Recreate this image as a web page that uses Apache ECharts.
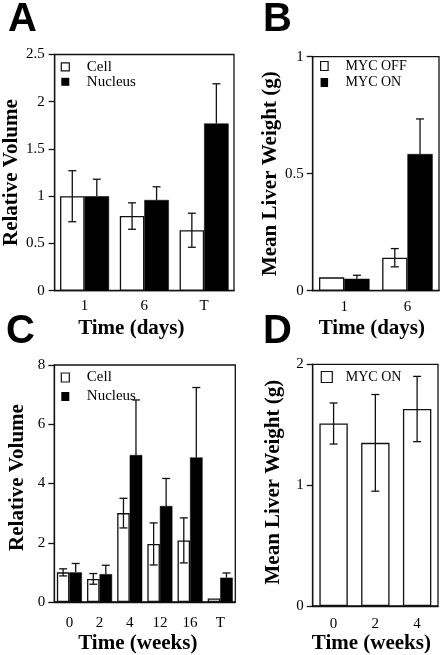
<!DOCTYPE html>
<html><head><meta charset="utf-8">
<script src="https://cdn.jsdelivr.net/npm/echarts@6/dist/echarts.min.js"></script>
<style>html,body{margin:0;padding:0;background:#fff}#c{width:442px;height:655px}</style>
</head><body><div id="c"></div>
<script>
// Panel A
const catsA = ['1', '6', 'T'];
const cellA = [1.0, 0.79, 0.64];
const cellErrA = [0.27, 0.14, 0.18];
const nucA = [1.0, 0.96, 1.77];
const nucErrA = [0.18, 0.14, 0.42];
// Panel B
const catsB = ['1', '6'];
const offB = [0.057, 0.141];
const offErrB = [0, 0.039];
const onB = [0.051, 0.584];
const onErrB = [0.015, 0.15];
// Panel C
const catsC = ['0', '2', '4', '12', '16', 'T'];
const cellC = [1.0, 0.78, 3.0, 1.96, 2.08, 0.12];
const cellErrC = [0.12, 0.18, 0.5, 0.71, 0.76, 0];
const nucC = [1.0, 0.94, 4.96, 3.24, 4.88, 0.82];
const nucErrC = [0.3, 0.3, 1.86, 0.93, 2.36, 0.16];
// Panel D
const catsD = ['0', '2', '4'];
const onD = [1.51, 1.35, 1.63];
const onErrD = [0.17, 0.40, 0.27];

const SERIF = 'Liberation Serif';
const INK = '#111';

function errSeries(ax, vals, errs, gap, n, pos, upOnly) {
  return {
    type: 'custom', xAxisIndex: ax, yAxisIndex: ax, z: 5, silent: true,
    encode: { x: 0, y: 1 },
    data: vals.map((v, i) => [i, v, errs[i]]),
    renderItem: function (params, api) {
      const idx = api.value(0), v = api.value(1), e = api.value(2);
      if (!e) return null;
      const band = api.size([1, 0])[0];
      const total = band * (1 - gap);
      const bw = total / n;
      const c = api.coord([idx, v]);
      const x = c[0] - total / 2 + bw * (pos + 0.5);
      const yt = api.coord([idx, v + e])[1];
      const yb = upOnly ? c[1] : api.coord([idx, Math.max(v - e, 0)])[1];
      const st = { stroke: INK, lineWidth: 1.3 };
      const ch = [
        { type: 'line', shape: { x1: x, y1: yt, x2: x, y2: yb }, style: st },
        { type: 'line', shape: { x1: x - 4, y1: yt, x2: x + 4, y2: yt }, style: st }
      ];
      if (!upOnly) ch.push({ type: 'line', shape: { x1: x - 4, y1: yb, x2: x + 4, y2: yb }, style: st });
      return { type: 'group', children: ch };
    }
  };
}

function barSeries(ax, name, vals, white, gap) {
  return {
    type: 'bar', name: name, xAxisIndex: ax, yAxisIndex: ax, data: vals,
    barGap: '0%', barCategoryGap: (gap * 100) + '%',
    itemStyle: white ? { color: '#fff', borderColor: INK, borderWidth: 1.3 } : { color: '#000', borderColor: '#000', borderWidth: 0.5 },
    emphasis: { disabled: true }, silent: true
  };
}

function xAx(gi, cats, margin, name, nameGap, shift) {
  return {
    type: 'category', gridIndex: gi, data: cats,
    axisLine: { lineStyle: { color: INK, width: 1.3 } },
    axisTick: { alignWithLabel: true, length: 5, lineStyle: { color: INK, width: 1.3 } },
    axisLabel: { margin: margin, color: '#000', fontFamily: SERIF, fontSize: 15 },
    name: name, nameLocation: 'middle', nameGap: nameGap,
    nameTextStyle: { color: '#000', fontFamily: SERIF, fontSize: 21, fontWeight: 'bold', padding: [0, shift, 0, 0] },
    splitLine: { show: false }
  };
}
function yAx(gi, max, interval, name, nameGap, margin, shift) {
  return {
    type: 'value', gridIndex: gi, min: 0, max: max, interval: interval,
    axisLine: { show: true, lineStyle: { color: INK, width: 1.3 } },
    axisTick: { show: true, length: 6, lineStyle: { color: INK, width: 1.3 } },
    axisLabel: { margin: margin, color: '#000', fontFamily: SERIF, fontSize: 15 },
    splitLine: { show: false },
    name: name, nameLocation: 'middle', nameGap: nameGap, nameRotate: 90,
    nameTextStyle: { color: '#000', fontFamily: SERIF, fontSize: 21, fontWeight: 'bold', padding: [0, 0, 0, shift] }
  };
}
function legend(names, styles, left, top, lh, gap, fs, iw, ih, padL) {
  return {
    orient: 'vertical', left: left, top: top, padding: 0, itemGap: gap,
    itemWidth: iw, itemHeight: ih, icon: 'rect', selectedMode: false,
    textStyle: { fontFamily: SERIF, fontSize: fs, color: '#000', lineHeight: lh, padding: [0, 0, 0, padL] },
    data: names.map((n, i) => ({ name: n, itemStyle: styles[i] }))
  };
}
const WH = { color: '#fff', borderColor: INK, borderWidth: 1.2 };
const BK = { color: '#000', borderColor: '#000', borderWidth: 0 };

const gA = 0.18, gB = 0.2, gC = 0.17, gD = 0.32;
const chart = echarts.init(document.getElementById('c'), null, { renderer: 'canvas' });
const gridBase = { show: true, borderColor: INK, borderWidth: 1.3, backgroundColor: 'transparent', containLabel: false };
chart.setOption({
  animation: false,
  backgroundColor: '#fff',
  grid: [
    Object.assign({ left: 54.3, top: 54.5, width: 179.7, height: 236.2 }, gridBase),
    Object.assign({ left: 312.7, top: 56.7, width: 126.3, height: 234 }, gridBase),
    Object.assign({ left: 54.3, top: 365, width: 181, height: 241.3 }, gridBase),
    Object.assign({ left: 312.7, top: 364.3, width: 125.3, height: 242.4 }, gridBase)
  ],
  xAxis: [
    xAx(0, catsA, 8, 'Time (days)', 27, 26),
    xAx(1, catsB, 9, 'Time (days)', 27, 8),
    xAx(2, catsC, 14, 'Time (weeks)', 31, 14),
    xAx(3, catsD, 11, 'Time (weeks)', 27, 8)
  ],
  yAxis: [
    yAx(0, 2.5, 0.5, 'Relative Volume', 31, 10, 0),
    yAx(1, 1, 0.5, 'Mean Liver Weight (g)', 31, 9, 0),
    yAx(2, 8, 2, 'Relative Volume', 26, 9, 12),
    yAx(3, 2, 1, 'Mean Liver Weight (g)', 29, 9, 6)
  ],
  legend: [
    legend(['Cell', 'Nucleus'], [WH, BK], 60.7, 59.3, 14, 0, 15, 8, 8, 12.5),
    legend(['MYC OFF', 'MYC ON'], [WH, BK], 320, 59, 14, 2.5, 14, 7.5, 9, 12.5),
    legend(['Cell', 'Nucleus'], [WH, BK], 60.7, 370, 14, 4, 15, 8, 9, 12.5),
    legend(['MYC ON'], [WH], 320.7, 370, 14, 0, 14, 11, 11, 8.5)
  ],
  graphic: [
    { type: 'text', left: 8, top: 0, style: { text: 'A', font: 'bold 40px "Liberation Sans"', fill: '#000' } },
    { type: 'text', left: 263, top: 0, style: { text: 'B', font: 'bold 40px "Liberation Sans"', fill: '#000' } },
    { type: 'text', left: 6, top: 312, style: { text: 'C', font: 'bold 40px "Liberation Sans"', fill: '#000' } },
    { type: 'text', left: 263, top: 312, style: { text: 'D', font: 'bold 40px "Liberation Sans"', fill: '#000' } }
  ],
  series: [
    barSeries(0, 'Cell', cellA, true, gA),
    barSeries(0, 'Nucleus', nucA, false, gA),
    errSeries(0, cellA, cellErrA, gA, 2, 0, false),
    errSeries(0, nucA, nucErrA, gA, 2, 1, true),
    barSeries(1, 'MYC OFF', offB, true, gB),
    barSeries(1, 'MYC ON', onB, false, gB),
    errSeries(1, offB, offErrB, gB, 2, 0, false),
    errSeries(1, onB, onErrB, gB, 2, 1, true),
    barSeries(2, 'Cell', cellC, true, gC),
    barSeries(2, 'Nucleus', nucC, false, gC),
    errSeries(2, cellC, cellErrC, gC, 2, 0, false),
    errSeries(2, nucC, nucErrC, gC, 2, 1, true),
    barSeries(3, 'MYC ON', onD, true, gD),
    errSeries(3, onD, onErrD, gD, 1, 0, false)
  ]
});
</script></body></html>
